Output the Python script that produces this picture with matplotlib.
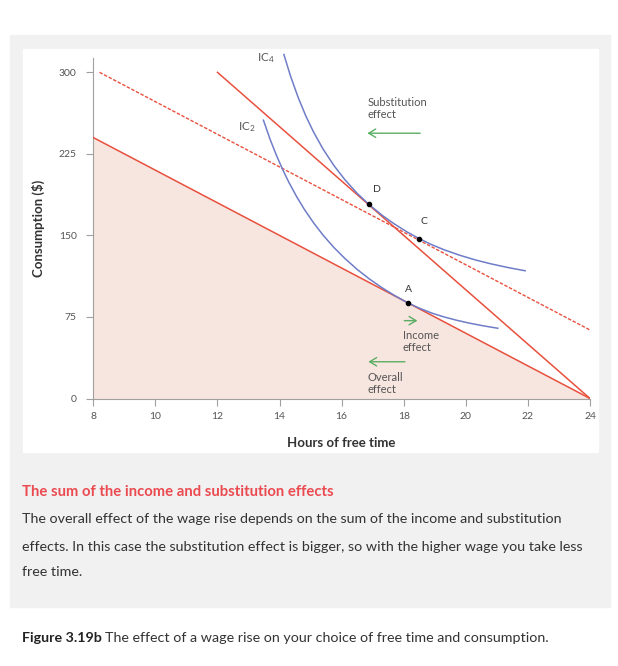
#Importing Libraries
import matplotlib
matplotlib.use('Agg')
import matplotlib.pyplot as plt
from matplotlib.patches import Rectangle

#Data
#budget lines (hours of free time, consumption $)
orig_h=[8,24]
orig_c=[240,0]
new_h=[12,24]
new_c=[300,0]
dash_h=[8.2,24]
dash_c=[300,63]

#indifference curves
ic2_h=[13.48,13.7,13.9,14.1,14.3,14.55,14.8,15.1,15.4,15.75,16.1,16.5,16.9,17.3,17.7,18.13,
       18.5,18.9,19.3,19.7,20.1,20.55,21.03]
ic2_c=[256,238,223.6,210.6,198.8,185.7,173.9,161.4,150.3,138.9,128.9,118.7,109.8,101.9,94.8,88,
       83.1,78.6,75,72,69.4,66.9,64.6]
ic4_h=[14.14,14.35,14.6,14.85,15.1,15.4,15.75,16.1,16.5,16.88,17.3,17.7,18.1,18.5,
       18.9,19.3,19.8,20.3,20.8,21.35,21.91]
ic4_c=[316.4,296.8,276.8,259.6,244.8,229.5,214.3,201.4,188.7,178.5,168.6,160.5,153.3,147,
       141.5,136.8,131.8,127.5,123.9,120.5,117.5]

#chosen points
pt_names=['A','C','D']
pt_h=[18.13,18.5,16.88]
pt_c=[88,146.5,178.5]

x_ticks=[8,10,12,14,16,18,20,22,24]
y_ticks=[0,75,150,225,300]

#Colors
red='#e8503e'
blue='#6f7dc8'
green='#5aae63'
fill_col='#f7e5df'
grey_txt='#555555'
dark_txt='#333333'

plt.rcParams['font.family']=['Lato','DejaVu Sans']
plt.rcParams['mathtext.default']='regular'

W,H=618,666
fig=plt.figure(figsize=(W/100,H/100),dpi=100)

#background panels (pixel boxes -> figure fractions)
def box(x0,y0,x1,y1,col):
    fig.patches.append(Rectangle((x0/W,1-y1/H),(x1-x0)/W,(y1-y0)/H,
                                 transform=fig.transFigure,color=col,zorder=-10))
box(10,35,610,607,'#f1f1f1')
box(23,49,598,452,'white')

ax=fig.add_axes([93.3/W,1-398.5/H,(590-93.3)/W,(398.5-58.2)/H])
ax.set_facecolor('none')
ax.set_xlim(8,24)
ax.set_ylim(0,313)

#feasible set + budget lines
ax.fill_between(orig_h,orig_c,0,color=fill_col,lw=0,zorder=1)
ax.plot(orig_h,orig_c,color=red,lw=1.1,zorder=3)
ax.plot(new_h,new_c,color=red,lw=1.1,zorder=3)
ax.plot(dash_h,dash_c,color=red,lw=1.0,dashes=(2.5,1.2),zorder=3)

#indifference curves
ax.plot(ic2_h,ic2_c,color=blue,lw=1.1,zorder=4)
ax.plot(ic4_h,ic4_c,color=blue,lw=1.1,zorder=4,clip_on=False)

#points
ax.scatter(pt_h,pt_c,s=9,color='black',zorder=5)
lbl_off={'A':(0.02,12),'C':(0.15,16),'D':(0.25,14)}
for n,h,c in zip(pt_names,pt_h,pt_c):
    ax.text(h+lbl_off[n][0],c+lbl_off[n][1],n,fontsize=7.5,color=dark_txt,ha='center',va='center')

ax.text(13.57,313,'IC$_4$',fontsize=8.5,color=grey_txt,ha='center',va='center',clip_on=False)
ax.text(12.93,249.5,'IC$_2$',fontsize=8.5,color=grey_txt,ha='center',va='center')

#effect arrows and notes
arr=dict(arrowstyle='->,head_length=0.5,head_width=0.3',color=green,lw=1.0,shrinkA=0,shrinkB=0)
ax.annotate('',xy=(16.83,244),xytext=(18.53,244),arrowprops=arr)
ax.text(16.83,267,'Substitution\neffect',fontsize=8,color=grey_txt,ha='left',va='center',linespacing=1.1)
ax.annotate('',xy=(18.44,71.6),xytext=(18.02,71.6),arrowprops=arr)
ax.text(17.97,52.5,'Income\neffect',fontsize=8,color=grey_txt,ha='left',va='center',linespacing=1.1)
ax.annotate('',xy=(16.86,33.8),xytext=(18.04,33.8),arrowprops=arr)
ax.text(16.82,14,'Overall\neffect',fontsize=8,color=grey_txt,ha='left',va='center',linespacing=1.1)

#axes styling
ax.spines[['top','right']].set_visible(False)
ax.spines[['left','bottom']].set_color('#a0a0a0')
ax.set_xticks(x_ticks)
ax.set_yticks(y_ticks)
ax.tick_params(colors='#a0a0a0',labelcolor=grey_txt,labelsize=7.5,length=5,width=0.8)
ax.tick_params(axis='x',pad=5)
ax.tick_params(axis='y',pad=7)
ax.set_xlabel('Hours of free time',fontsize=9.5,fontweight='bold',color=dark_txt,labelpad=11)
ax.set_ylabel('Consumption ($)',fontsize=9.5,fontweight='bold',color=dark_txt,labelpad=10)

#text under the chart
def ftxt(x,y,s,**kw):
    return fig.text(x/W,1-y/H,s,va='center',ha='left',**kw)
ftxt(22,492,'The sum of the income and substitution effects',fontsize=10.7,fontweight='bold',color='#ea4a50')
ftxt(22,519,'The overall effect of the wage rise depends on the sum of the income and substitution',fontsize=10.3,color=dark_txt)
ftxt(22,547,'effects. In this case the substitution effect is bigger, so with the higher wage you take less',fontsize=10.3,color=dark_txt)
ftxt(22,572,'free time.',fontsize=10.3,color=dark_txt)
fig_lbl=ftxt(22,638,'Figure 3.19b',fontsize=10.3,fontweight='bold',color='#222222')
fig.canvas.draw()
x_end=fig_lbl.get_window_extent().x1
ftxt(x_end+3,638,'The effect of a wage rise on your choice of free time and consumption.',fontsize=10.3,color=dark_txt)

fig.savefig('out.png',dpi=100)
